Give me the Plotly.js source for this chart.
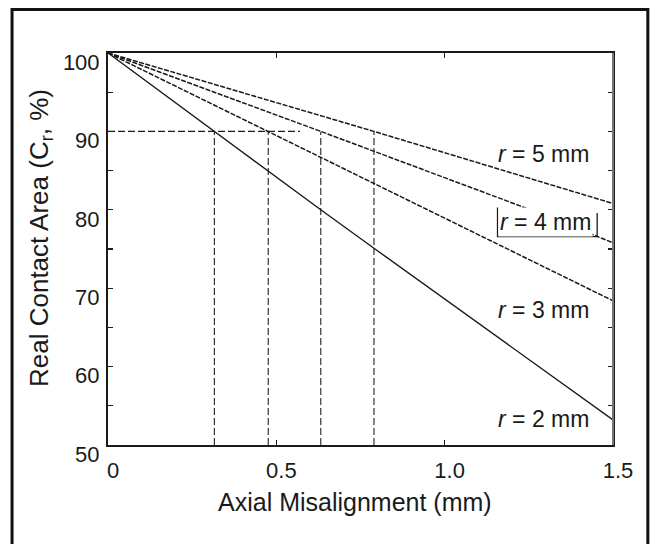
<!DOCTYPE html>
<html>
<head>
<meta charset="utf-8">
<script src="https://cdn.plot.ly/plotly-3.0.1.min.js"></script>
<style>html,body{margin:0;padding:0;background:#fff;}#chart{width:655px;height:544px;}</style>
</head>
<body>
<div id="chart"></div>
<script>
// Data
var r2_x = [0, 0.316, 0.476, 0.632, 0.79, 1.5];
var r2_y = [100, 90, 84.9, 80.0, 75.1, 53.2];
var r3_x = [0, 0.476, 0.79, 1.5];
var r3_y = [100, 90, 83.4, 68.4];
var r4_x = [0, 0.632, 1.224, 1.5];
var r4_y = [100, 90, 80.5, 75.8];
var r5_x = [0, 0.79, 1.5];
var r5_y = [100, 90, 80.8];
var curveLabels = ["r = 2 mm", "r = 3 mm", "r = 4 mm", "r = 5 mm"];
var labelX = [1.295, 1.295, 1.3, 1.295];
var labelY = [53.3, 67.2, 78.4, 87.1];
var threshold = 90;
var crossX = [0.316, 0.476, 0.632, 0.79];
var guideEndX = 0.57;
var yTickVals = [50, 55, 60, 65, 70, 75, 80, 85, 90, 95, 100];
var yTickText = ["50", "", "60", "", "70", "", "80", "", "90", "", "100"];
var xTickVals = [0, 0.5, 1.0, 1.5];
var xTickText = ["0", "0.5", "1.0", "1.5"];
var xTitle = "Axial Misalignment (mm)";
var yTitle = "Real Contact Area (C<sub>r</sub>, %)";

var font = "Liberation Sans, Arial, Helvetica, sans-serif";
var ink = "#1a1a1a";

var traces = [];
// guide lines
traces.push({x: [0, guideEndX], y: [threshold, threshold], mode: "lines",
  line: {color: ink, width: 1.3, dash: "7px,3px"}, hoverinfo: "skip", showlegend: false});
crossX.forEach(function (cx) {
  traces.push({x: [cx, cx], y: [50, threshold], mode: "lines",
    line: {color: "#333", width: 1.2, dash: "7px,3px"}, hoverinfo: "skip", showlegend: false});
});
traces.push({x: r2_x, y: r2_y, mode: "lines", line: {color: ink, width: 1.4}, showlegend: false});
traces.push({x: r3_x, y: r3_y, mode: "lines", line: {color: ink, width: 1.5, dash: "5px,1.5px"}, showlegend: false});
traces.push({x: r4_x, y: r4_y, mode: "lines", line: {color: ink, width: 1.5, dash: "5px,1.5px"}, showlegend: false});
traces.push({x: r5_x, y: r5_y, mode: "lines", line: {color: ink, width: 1.5, dash: "5px,1.5px"}, showlegend: false});

var annotations = curveLabels.map(function (t, i) {
  var txt = t.replace(/^r/, "<i>r</i>");
  return {x: labelX[i], y: labelY[i], xref: "x", yref: "y", text: txt, showarrow: false,
    font: {family: font, size: 23, color: ink},
    bgcolor: i === 2 ? "#ffffff" : "rgba(0,0,0,0)",
    borderpad: i === 2 ? 1 : 0, xanchor: "center", yanchor: "middle"};
});
annotations.push({x: 0.489, y: -0.1454, xref: "paper", yref: "paper", text: xTitle, showarrow: false,
  font: {family: font, size: 25, color: ink}, xanchor: "center", yanchor: "middle"});
annotations.push({x: -0.1347, y: 0.528, xref: "paper", yref: "paper", text: yTitle, showarrow: false,
  textangle: -90, font: {family: font, size: 26, color: ink}, xanchor: "center", yanchor: "middle"});

var layout = {
  width: 655, height: 544,
  margin: {l: 108, r: 42, t: 53, b: 99},
  paper_bgcolor: "#ffffff", plot_bgcolor: "#ffffff",
  showlegend: false,
  xaxis: {
    range: [0, 1.5], tickvals: xTickVals, ticktext: xTickText,
    ticks: "inside", ticklen: 5, tickwidth: 1.2, tickcolor: ink,
    showline: true, linecolor: ink, linewidth: 2, mirror: "ticks",
    showgrid: false, zeroline: false,
    tickfont: {family: font, size: 22, color: ink},
    ticklabelshift: 5, ticklabelstandoff: 5
  },
  yaxis: {
    range: [50, 100], tickvals: yTickVals, ticktext: yTickText,
    ticks: "inside", ticklen: 5, tickwidth: 1.2, tickcolor: ink,
    showline: true, linecolor: ink, linewidth: 2, mirror: "ticks",
    showgrid: false, zeroline: false,
    tickfont: {family: font, size: 22, color: ink},
    ticklabelshift: 9, ticklabelstandoff: 2
  },
  annotations: annotations,
  shapes: [
    {type: "rect", xref: "paper", yref: "paper", x0: -0.190, x1: 1.069, y0: -0.30, y1: 1.111,
     line: {color: "#111", width: 3}, fillcolor: "rgba(0,0,0,0)", layer: "above"},
    {type: "line", xref: "paper", yref: "paper", x0: 1, x1: 1, y0: 0, y1: 1,
     line: {color: "#777", width: 2}, layer: "above"},
    {type: "path", xref: "x", yref: "y", path: "M 1.157 80.3 L 1.157 76.57 L 1.453 76.57 L 1.453 79.6",
     line: {color: ink, width: 1.3}}
  ]
};

Plotly.newPlot("chart", traces, layout, {staticPlot: true, displayModeBar: false});
</script>
</body>
</html>
